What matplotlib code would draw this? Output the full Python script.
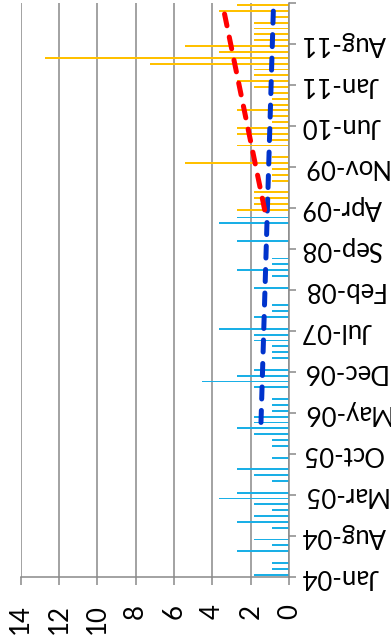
import matplotlib
matplotlib.use('Agg')
import matplotlib.pyplot as plt
import numpy as np

# Monthly values, Jan-04 .. Feb-09 (blue series)
blue_values = [1.82, 0.91, 0.91, 0.00, 2.73, 0.91, 1.82, 0.00, 0.91, 2.73,
               1.82, 0.91, 1.82, 3.64, 2.73, 0.00, 0.91, 1.82, 2.73, 0.00,
               0.91, 0.00, 0.91, 0.91, 1.82, 2.73, 1.82, 1.82, 0.91, 0.91,
               0.91, 0.00, 1.82, 4.55, 2.73, 1.82, 0.00, 0.91, 0.91, 0.91,
               1.82, 1.82, 3.64, 0.00, 1.82, 0.91, 0.91, 0.00, 0.00, 1.82,
               0.00, 0.91, 2.73, 0.91, 0.91, 0.00, 0.00, 2.73, 0.00, 0.00,
               3.64, 2.73]
# Monthly values, Mar-09 .. Feb-12 (orange series)
orange_values = [2.73, 1.82, 1.82, 1.82, 0.00, 0.91, 0.91, 0.91, 5.45, 0.91,
                 0.00, 2.73, 0.91, 2.73, 2.73, 0.91, 0.91, 2.73, 0.91, 0.91,
                 0.91, 1.82, 2.73, 1.82, 1.82, 7.27, 12.73, 3.64, 5.45, 1.82,
                 1.82, 1.82, 1.82, 0.91, 3.64, 2.73]
date_labels = ['Jan-04', 'Aug-04', 'Mar-05', 'Oct-05', 'May-06', 'Dec-06',
               'Jul-07', 'Feb-08', 'Sep-08', 'Apr-09', 'Nov-09', 'Jun-10',
               'Jan-11', 'Aug-11', '']
value_ticks = [0, 2, 4, 6, 8, 10, 12, 14]
blue_trend_first = 26      # first month index used for the blue trendline
blue_trend_forecast = 36   # months of forward forecast

plt.rcParams['font.family'] = ['Lato', 'DejaVu Sans']

fig = plt.figure(figsize=(3.91, 6.44), dpi=100)
ax = fig.add_axes([20.5 / 391, 1 - 576.7 / 644, (289.3 - 20.5) / 391, (576.7 - 3) / 644])

n_blue = len(blue_values)
n_orange = len(orange_values)
n_total = n_blue + n_orange
blue_pos = np.arange(n_blue) + 0.35
orange_pos = np.arange(n_blue, n_total) + 0.65

ax.barh(blue_pos, blue_values, height=0.32, color='#1AAFE6', zorder=2)
ax.barh(orange_pos, orange_values, height=0.32, color='#FFC000', zorder=2)

# trendlines
bx = blue_pos[blue_trend_first:]
by = np.array(blue_values[blue_trend_first:])
bc = np.polyfit(bx, by, 1)
bline_x = np.array([bx[0], bx[-1] + blue_trend_forecast])
ax.plot(np.polyval(bc, bline_x), bline_x, color='#0033CC', lw=3.6,
        dashes=(2.4, 2.3), dash_capstyle='round', zorder=3)

oc = np.polyfit(orange_pos, orange_values, 1)
oline_x = np.array([orange_pos[0], orange_pos[-1]])
ax.plot(np.polyval(oc, oline_x), oline_x, color='#FF0000', lw=3.6,
        dashes=(2.4, 2.3), dash_capstyle='round', zorder=3)

ax.set_xlim(14, 0)
ax.set_ylim(0, n_total)

gray = '#898989'
ax.set_xticks(value_ticks)
ax.set_xticklabels([str(v) for v in value_ticks], rotation=90, fontsize=18.5)
ax.set_yticks(np.arange(0, n_total + 1, 7))
ax.set_yticklabels(date_labels, rotation=180, fontsize=18.5, va='center')
ax.yaxis.tick_right()

ax.xaxis.grid(True, color=gray, lw=1.1, zorder=0)
ax.set_axisbelow(True)
for s in ['left', 'top']:
    ax.spines[s].set_visible(False)
for s in ['bottom', 'right']:
    ax.spines[s].set_color(gray)
    ax.spines[s].set_linewidth(1.1)
ax.tick_params(axis='x', length=5.8, width=1.1, color=gray, pad=14, labelcolor='black')
ax.tick_params(axis='y', length=5.0, width=1.1, color=gray, pad=3.4, labelcolor='black')

fig.savefig('out.png', dpi=100)
